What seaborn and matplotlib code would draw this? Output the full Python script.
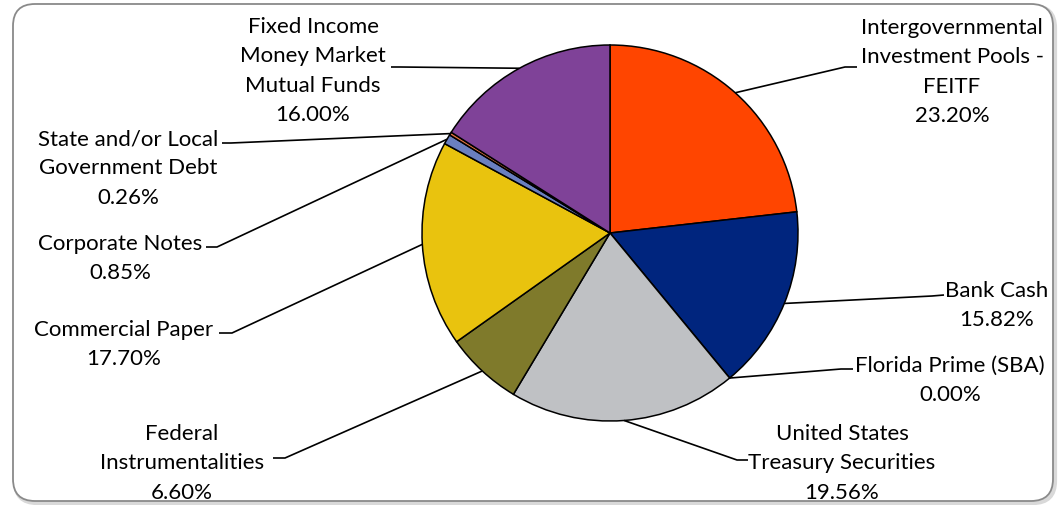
import matplotlib
matplotlib.use("Agg")
import matplotlib.pyplot as plt
from matplotlib.patches import FancyBboxPatch
import numpy as np
import seaborn as sns

# Portfolio composition, clockwise from 12 o'clock
categories = [
    "Intergovernmental\nInvestment Pools -\nFEITF",
    "Bank Cash",
    "Florida Prime (SBA)",
    "United States\nTreasury Securities",
    "Federal\nInstrumentalities",
    "Commercial Paper",
    "Corporate Notes",
    "State and/or Local\nGovernment Debt",
    "Fixed Income\nMoney Market\nMutual Funds",
]
shares = [23.20, 15.82, 0.00, 19.56, 6.60, 17.70, 0.85, 0.26, 16.00]
slice_colors = ["#FF4500", "#00257E", "#5B8FD0", "#BFC1C4", "#7F7A2B",
                "#E9C30E", "#6A7FC0", "#E2733F", "#7F4298"]

# Label layout: text centre x, first-line baseline y, leader elbow, leader end
label_layout = [
    (952, 34, (845, 68), (857, 68)),
    (997, 297, (932, 297), (944, 296)),
    (950, 372, (841, 370), (853, 370)),
    (842, 440, (737, 461), (748, 461)),
    (182, 440, (285, 459), (273, 459)),
    (124, 336, (232, 334), (219, 334)),
    (120, 250, (217, 248), (206, 248)),
    (128, 145, (231, 144), (222, 144)),
    (313, 33, (400, 68), (391, 68)),
]

sns.set_theme(style="white")
plt.rcParams["font.family"] = ["Lato", "DejaVu Sans"]

W, H = 1060, 506
fig = plt.figure(figsize=(W / 100, H / 100), dpi=100)
ax = fig.add_axes([0, 0, 1, 1])
ax.set_xlim(0, W)
ax.set_ylim(H, 0)
ax.set_aspect("equal")
ax.axis("off")

# Rounded chart frame with a soft shadow
shadow = FancyBboxPatch((15, 7), 1040, 497,
                        boxstyle="round,pad=0,rounding_size=22",
                        facecolor="none", edgecolor="#d9d9d9", linewidth=3.0, zorder=0)
ax.add_patch(shadow)
frame = FancyBboxPatch((13, 5), 1040, 497,
                       boxstyle="round,pad=0,rounding_size=22",
                       facecolor="white", edgecolor="#8a8a8a", linewidth=1.3, zorder=1)
ax.add_patch(frame)

center = (610, 234)
radius = 188
palette = sns.color_palette(slice_colors)
wedges, _ = ax.pie(shares, colors=palette, startangle=270, counterclock=True,
                   center=center, radius=radius, frame=True,
                   wedgeprops=dict(edgecolor="black", linewidth=1.1))
for w in wedges:
    w.set_zorder(3)
ax.set_xlim(0, W)
ax.set_ylim(H, 0)
ax.axis("off")

line_gap = 29.3
for w, name, val, (tx, ty, elbow, end) in zip(wedges, categories, shares, label_layout):
    mid = np.deg2rad((w.theta1 + w.theta2) / 2)
    ax_pt = (center[0] + radius * np.cos(mid), center[1] + radius * np.sin(mid))
    ax.plot([ax_pt[0], elbow[0], end[0]], [ax_pt[1], elbow[1], end[1]],
            color="black", linewidth=1.2, zorder=4, solid_capstyle="butt")
    lines = name.split("\n") + [f"{val:.2f}%"]
    for i, ln in enumerate(lines):
        ax.text(tx, ty + i * line_gap, ln, ha="center", va="baseline",
                fontsize=16, color="black", zorder=5)

fig.savefig("out.png", dpi=100)
